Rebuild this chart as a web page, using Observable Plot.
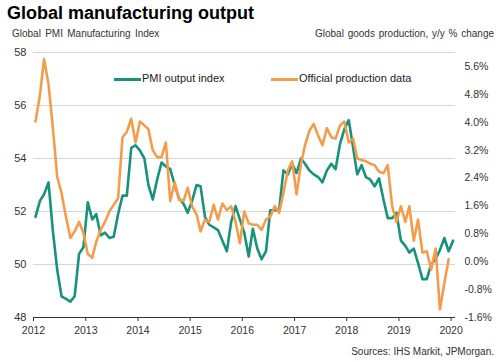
<!DOCTYPE html>
<html><head><meta charset="utf-8">
<script src="https://cdn.jsdelivr.net/npm/d3@7"></script>
<script src="https://cdn.jsdelivr.net/npm/@observablehq/plot@0.6"></script>
<style>
html,body{margin:0;padding:0;background:#fff;overflow:hidden}
#wrap{position:relative;width:502px;height:362px;font-family:"Liberation Sans",Arial,sans-serif;color:#333}
.t{position:absolute;white-space:nowrap;line-height:1}
.sw{position:absolute;height:3px}
#wrap svg{position:absolute;left:0;top:0}
</style></head><body><div id="wrap"></div>
<script>
// Monthly series, Jan 2012 onward
const startYear = 2012;
const pmiOutput = [
  51.8, 52.4, 52.65, 53.1, 51.3, 49.8, 48.8, 48.7, 48.6, 48.8, 50.4, 50.65,
  52.35, 51.7, 51.9, 51.1, 51.2, 51.0, 51.05, 51.9, 52.6, 52.6, 54.4, 54.5,
  54.3, 54.0, 53.0, 52.45, 53.2, 53.85, 53.7, 53.6, 53.0, 52.5, 52.3, 51.95,
  52.4, 53.0, 52.95, 51.8, 51.5, 51.4, 51.3, 50.9, 50.5, 51.6, 52.2, 51.7,
  51.2, 50.3, 51.35, 50.6, 50.2, 50.5, 52.05, 52.05, 52.05, 53.55, 53.4, 53.8,
  53.45, 54.0, 53.8, 53.55, 53.4, 53.3, 53.1, 53.55, 53.8, 53.6, 54.55, 55.1,
  55.45, 54.4, 53.4, 53.75, 53.3, 53.2, 52.95, 53.25, 52.45, 51.75, 51.75, 51.95,
  50.9, 50.7, 50.45, 50.6, 50.05, 49.45, 49.45, 50.0, 50.2, 50.55, 51.0, 50.5,
  50.9
];
// Official goods production, y/y % change
const officialProduction = [
  4.02, 4.78, 5.81, 5.09, 3.87, 2.43, 1.97, 1.29, 0.68, 0.87, 1.14, 0.83,
  0.22, 0.11, 0.57, 0.91, 1.14, 1.44, 1.63, 1.82, 3.57, 3.72, 4.10, 3.42,
  4.02, 3.91, 3.80, 3.19, 3.00, 3.00, 3.42, 1.74, 2.28, 1.78, 1.74, 2.12,
  1.59, 1.36, 0.87, 1.21, 1.14, 1.63, 1.21, 1.67, 1.48, 1.59, 1.14, 0.53,
  1.44, 1.10, 1.06, 1.06, 0.91, 1.21, 1.29, 1.59, 1.40, 1.97, 2.62, 2.88,
  1.93, 2.81, 3.34, 3.76, 3.95, 3.61, 3.34, 3.83, 3.57, 3.53, 3.91, 4.02,
  3.42, 3.53, 2.96, 2.92, 2.88, 2.81, 2.77, 2.58, 2.54, 2.77, 1.59, 1.14,
  1.59, 1.14, 1.59, 0.60, 1.21, 0.26, 0.30, -0.23, 0.38, -1.37, -0.61, 0.07
];
const seriesNames = ["PMI output index", "Official production data"];
const yearTicks = [2012, 2013, 2014, 2015, 2016, 2017, 2018, 2019, 2020];
const leftTicks = [48, 50, 52, 54, 56, 58];
const rightTicks = [-1.6, -0.8, 0.0, 0.8, 1.6, 2.4, 3.2, 4.0, 4.8, 5.6];
const leftDomain = [48, 58];
const rightDomain = [-1.6, 6.0];
const colors = ["#16927f", "#f39d4c"];

const monthDate = i => new Date(Date.UTC(startYear, i, 15));
const toLeft = d3.scaleLinear().domain(rightDomain).range(leftDomain);
const pmiData = pmiOutput.map((v, i) => ({date: monthDate(i), v}));
const offData = officialProduction.map((v, i) => ({date: monthDate(i), v: toLeft(v)}));
const fmtPct = v => {
  let r = Math.round(toLeft.invert(v) * 10) / 10;
  if (Math.abs(r) < 1e-9) r = 0;
  return r.toFixed(1) + "%";
};

const chart = Plot.plot({
  width: 502, height: 362,
  marginTop: 52, marginBottom: 45, marginLeft: 33, marginRight: 47,
  style: {fontFamily: '"Liberation Sans", Arial, sans-serif', color: "#333", background: "transparent"},
  x: {type: "utc", domain: [new Date(Date.UTC(2012, 0, 1)), new Date(Date.UTC(2020, 1, 1))]},
  y: {domain: leftDomain},
  marks: [
    Plot.gridY(leftTicks.filter(d => d > 48), {stroke: "#d6d6d6", strokeOpacity: 1}),
    Plot.lineY(pmiData, {x: "date", y: "v", stroke: colors[0], strokeWidth: 2.6}),
    Plot.lineY(offData, {x: "date", y: "v", stroke: colors[1], strokeWidth: 2.6}),
    Plot.ruleY([48], {stroke: "#333", strokeWidth: 1}),
    Plot.axisX(yearTicks.map(y => new Date(Date.UTC(y, 0, 1))), {
      tickFormat: d3.utcFormat("%Y"), tickSize: 4, tickPadding: 5, fontSize: 10.5, label: null, stroke: "#333"
    }),
    Plot.axisY(leftTicks, {anchor: "left", tickSize: 0, tickPadding: 7, fontSize: 11, label: null}),
    Plot.axisY(rightTicks.map(toLeft), {
      anchor: "right", tickSize: 0, tickPadding: 9, fontSize: 10.5, label: null,
      textAnchor: "start",
      tickFormat: fmtPct
    })
  ]
});

const wrap = document.getElementById("wrap");
wrap.appendChild(chart);
function addText(txt, css) {
  const d = document.createElement("div");
  d.className = "t"; d.textContent = txt; Object.assign(d.style, css); wrap.appendChild(d);
}
function addSwatch(color, css) {
  const d = document.createElement("div");
  d.className = "sw"; d.style.background = color; Object.assign(d.style, css); wrap.appendChild(d);
}
addText("Global manufacturing output", {left: "7px", top: "4px", fontSize: "18px", fontWeight: "bold", color: "#000"});
addText("Global PMI Manufacturing Index", {left: "12px", top: "29px", fontSize: "10px", wordSpacing: "1.5px"});
addText("Global goods production, y/y % change", {right: "8px", top: "29px", fontSize: "10px", wordSpacing: "1px"});
addSwatch(colors[0], {left: "114px", top: "77.5px", width: "27px"});
addText(seriesNames[0], {left: "142px", top: "73px", fontSize: "11px", color: "#222"});
addSwatch(colors[1], {left: "271px", top: "77.5px", width: "27px"});
addText(seriesNames[1], {left: "299px", top: "73px", fontSize: "11px", color: "#222"});
addText("Sources: IHS Markit, JPMorgan.", {right: "8px", top: "347px", fontSize: "10px"});
</script></body></html>
